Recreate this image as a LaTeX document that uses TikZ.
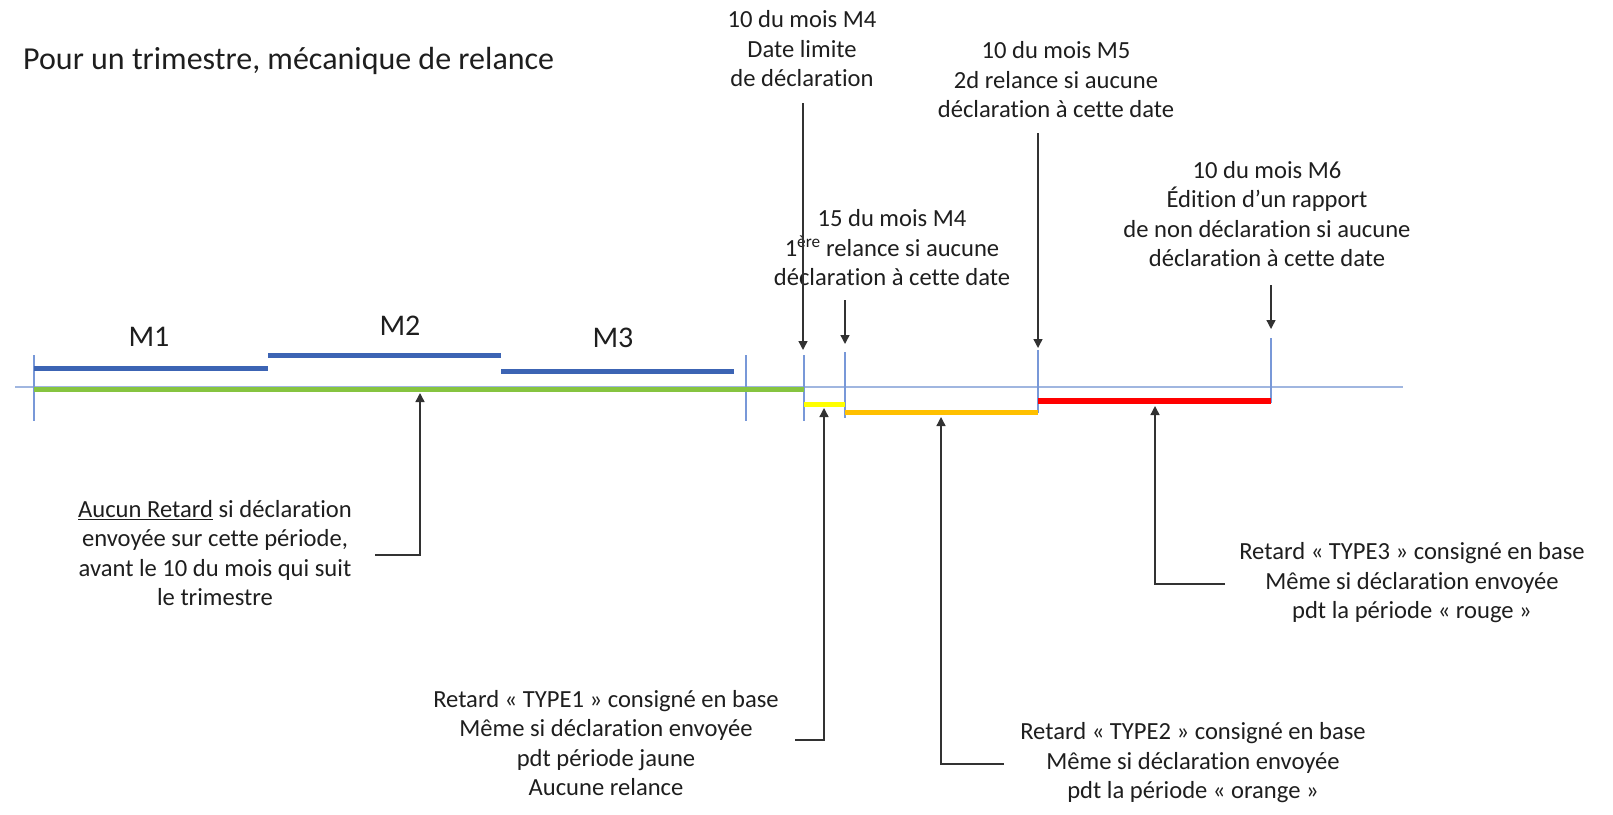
\documentclass[tikz,border=0pt]{standalone}
\usepackage{fontspec}
\setmainfont{Carlito}[Ligatures=NoCommon]
\usetikzlibrary{arrows.meta}
\definecolor{txt}{RGB}{30,30,30}
\definecolor{axisblue}{RGB}{160,182,224}
\definecolor{tickblue}{RGB}{120,152,216}
\definecolor{barblue}{RGB}{60,100,180}
\definecolor{lgreen}{RGB}{134,196,64}
\definecolor{lyellow}{RGB}{255,255,0}
\definecolor{lorange}{RGB}{255,192,0}
\definecolor{lred}{RGB}{255,0,0}
\definecolor{arrowc}{RGB}{50,50,50}
\tikzset{
  lbl/.style={align=center, inner sep=0pt, text=txt, font=\fontsize{24.6}{29.5}\selectfont},
  mlbl/.style={inner sep=0pt, text=txt, font=\fontsize{30}{36}\selectfont},
  ttl/.style={anchor=west, inner sep=0pt, text=txt, font=\fontsize{32}{38}\selectfont},
  bar/.style={line width=5pt},
  tickline/.style={draw=tickblue, line width=1.5pt},
  conn/.style={draw=arrowc, line width=1.4pt, -{Triangle[width=9pt,length=9pt]}},
}
\begin{document}
\begin{tikzpicture}[x=1pt,y=-1pt]
\useasboundingbox (0,0) rectangle (1613,814);
% title
\node[ttl] (title) at (23,61) {Pour un trimestre, mécanique de relance};
% month labels
\node[mlbl] (m1) at (149,337) {M1};
\node[mlbl] (m2) at (400,326) {M2};
\node[mlbl] (m3) at (613,338) {M3};
% axis
\coordinate (axL) at (15,387);
\coordinate (axR) at (1403,387);
\draw[draw=axisblue, line width=2.5pt] (axL) -- (axR);
% ticks
\coordinate (k0a) at (34,355);   \coordinate (k0b) at (34,421);
\coordinate (k3a) at (746,355);  \coordinate (k3b) at (746,421);
\coordinate (k4a) at (804,355);  \coordinate (k4b) at (804,421);
\coordinate (k15a) at (845,352); \coordinate (k15b) at (845,418);
\coordinate (k5a) at (1038,350); \coordinate (k5b) at (1038,413);
\coordinate (k6a) at (1271,338); \coordinate (k6b) at (1271,403);
\draw[tickline] (k0a) -- (k0b);
\draw[tickline] (k3a) -- (k3b);
\draw[tickline] (k4a) -- (k4b);
\draw[tickline] (k15a) -- (k15b);
\draw[tickline] (k5a) -- (k5b);
\draw[tickline] (k6a) -- (k6b);
% bars
\coordinate (g0) at (34,389.5); \coordinate (g1) at (804,389.5);
\draw[bar, draw=lgreen, line width=4.5pt] (g0) -- (g1);
\coordinate (b1a) at (34,368);  \coordinate (b1b) at (268,368);
\coordinate (b2a) at (268,355); \coordinate (b2b) at (501,355);
\coordinate (b3a) at (501,371); \coordinate (b3b) at (734,371);
\draw[bar, draw=barblue] (b1a) -- (b1b);
\draw[bar, draw=barblue] (b2a) -- (b2b);
\draw[bar, draw=barblue] (b3a) -- (b3b);
\coordinate (y0) at (804,404);    \coordinate (y1) at (845,404);
\coordinate (o0) at (845,412.5);  \coordinate (o1) at (1038,412.5);
\coordinate (r0) at (1038,401);   \coordinate (r1) at (1271,401);
\draw[bar, draw=lyellow] (y0) -- (y1);
\draw[bar, draw=lorange] (o0) -- (o1);
\draw[bar, draw=lred, line width=5.5pt] (r0) -- (r1);
% top labels
\node[lbl] (l4) at (802,49) {10 du mois M4\\Date limite\\de déclaration};
\node[lbl] (l5) at (1056,80) {10 du mois M5\\2d relance si aucune\\déclaration à cette date};
\node[lbl] (l15) at (892,248) {15 du mois M4\\1\textsuperscript{ère} relance si aucune\\déclaration à cette date};
\node[lbl] (l6) at (1267,214) {10 du mois M6\\Édition d’un rapport\\de non déclaration si aucune\\déclaration à cette date};
% bottom labels
\node[lbl] (l0) at (215,553) {\underline{Aucun Retard} si déclaration\\envoyée sur cette période,\\avant le 10 du mois qui suit\\le trimestre};
\node[lbl] (t1) at (606,743) {Retard « TYPE1 » consigné en base\\Même si déclaration envoyée\\pdt période jaune\\Aucune relance};
\node[lbl] (t2) at (1193,763) {Retard « TYPE2 » consigné en base\\Même si déclaration envoyée\\pdt la période « orange »};
\node[lbl] (t3) at (1412,583) {Retard « TYPE3 » consigné en base\\Même si déclaration envoyée\\pdt la période « rouge »};
% top arrows
\coordinate (a4s) at (803,103);   \coordinate (a4e) at (803,350);
\coordinate (a15s) at (845,300);  \coordinate (a15e) at (845,344);
\coordinate (a5s) at (1038,133);  \coordinate (a5e) at (1038,348);
\coordinate (a6s) at (1271,285);  \coordinate (a6e) at (1271,329);
\draw[conn] (a4s) -- (a4e);
\draw[conn] (a15s) -- (a15e);
\draw[conn] (a5s) -- (a5e);
\draw[conn] (a6s) -- (a6e);
% bottom arrows
\coordinate (c0s) at (375,555);   \coordinate (c0e) at (420,393);
\coordinate (c1s) at (795,740);   \coordinate (c1e) at (824,408);
\coordinate (c2s) at (1004,764);  \coordinate (c2e) at (941,417);
\coordinate (c3s) at (1225,584);  \coordinate (c3e) at (1155,406);
\draw[conn] (c0s) -| (c0e);
\draw[conn] (c1s) -| (c1e);
\draw[conn] (c2s) -| (c2e);
\draw[conn] (c3s) -| (c3e);
\end{tikzpicture}
\end{document}
